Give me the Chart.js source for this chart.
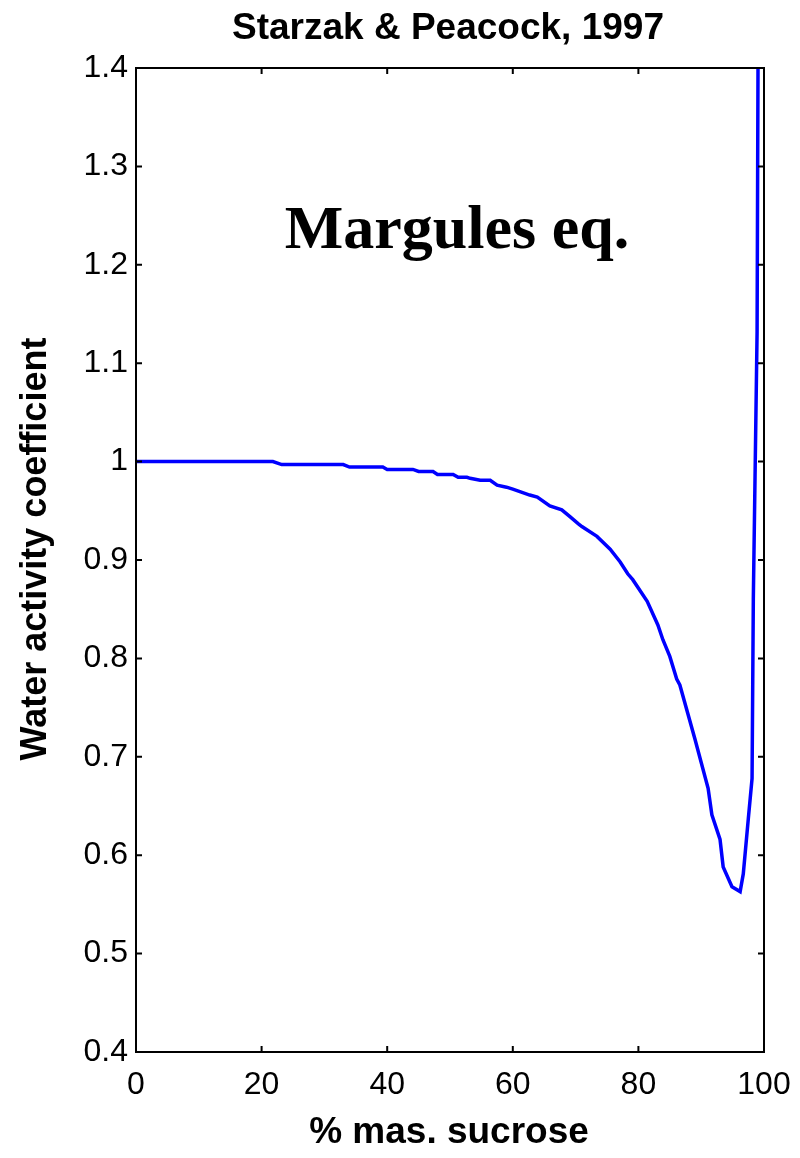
<!DOCTYPE html>
<html>
<head>
<meta charset="utf-8">
<script src="https://cdn.jsdelivr.net/npm/chart.js@4/dist/chart.umd.min.js"></script>
<style>
html,body{margin:0;padding:0;background:#fff;}
#wrap{width:800px;height:1158px;position:relative;}
</style>
</head>
<body>
<div id="wrap"><canvas id="c" width="800" height="1158"></canvas></div>
<script>
const chartTitle = "Starzak & Peacock, 1997";
const annotationText = "Margules eq.";
const xAxisTitle = "% mas. sucrose";
const yAxisTitle = "Water activity coefficient";
const xTickValues = [0, 20, 40, 60, 80, 100];
const yTickValues = [0.4, 0.5, 0.6, 0.7, 0.8, 0.9, 1, 1.1, 1.2, 1.3, 1.4];
const sucrosePct = [0, 10, 21.8, 23.2, 33, 34, 39.3, 40, 44.1, 45, 47.3, 48, 50.5, 51.3, 52.7, 53.2, 54.8, 56.4, 57.5, 59, 60, 62.7, 63.9, 65.9, 67.8, 69.1, 70.4, 71.0, 73.4, 75.5, 77.1, 78.3, 79.1, 81.4, 83.1, 83.9, 85.0, 86.1, 86.6, 89.0, 91.1, 91.7, 93.0, 93.5, 94.9, 96.2, 96.7, 97.5, 98.1, 98.3, 98.9, 99.1];
const activityCoef = [1, 1, 1, 0.997, 0.997, 0.9945, 0.9945, 0.992, 0.992, 0.990, 0.990, 0.987, 0.987, 0.984, 0.984, 0.983, 0.981, 0.981, 0.976, 0.974, 0.972, 0.966, 0.964, 0.955, 0.951, 0.944, 0.937, 0.934, 0.924, 0.911, 0.898, 0.886, 0.880, 0.858, 0.834, 0.819, 0.802, 0.779, 0.773, 0.718, 0.668, 0.641, 0.616, 0.588, 0.568, 0.563, 0.581, 0.637, 0.678, 0.86, 1.132, 1.5];

const points = sucrosePct.map((x, i) => ({x: x, y: activityCoef[i]}));
const SANS = '"Liberation Sans", Arial, Helvetica, sans-serif';
const SERIF = '"Liberation Serif", "Times New Roman", serif';

const boxPlugin = {
  id: 'boxPlugin',
  afterDraw(chart) {
    const ctx = chart.ctx, a = chart.chartArea;
    const xs = chart.scales.x, ys = chart.scales.y;
    ctx.save();
    ctx.strokeStyle = '#000';
    ctx.lineWidth = 2;
    ctx.strokeRect(a.left, a.top, a.right - a.left, a.bottom - a.top);
    const tl = 6;
    ctx.beginPath();
    xTickValues.forEach(v => {
      const px = xs.getPixelForValue(v);
      ctx.moveTo(px, a.bottom); ctx.lineTo(px, a.bottom - tl);
      ctx.moveTo(px, a.top); ctx.lineTo(px, a.top + tl);
    });
    yTickValues.forEach(v => {
      const py = ys.getPixelForValue(v);
      ctx.moveTo(a.left, py); ctx.lineTo(a.left + tl, py);
      ctx.moveTo(a.right, py); ctx.lineTo(a.right - tl, py);
    });
    ctx.stroke();
    ctx.fillStyle = '#000';
    ctx.textAlign = 'center';
    ctx.textBaseline = 'alphabetic';
    ctx.font = 'bold 37px ' + SANS;
    ctx.fillText(chartTitle, 448, 39);
    ctx.font = 'bold 37px ' + SANS;
    ctx.fillText(xAxisTitle, 449, 1143);
    ctx.save();
    ctx.translate(46, 549);
    ctx.rotate(-Math.PI / 2);
    ctx.font = 'bold 36px ' + SANS;
    ctx.fillText(yAxisTitle, 0, 0);
    ctx.restore();
    ctx.font = 'bold 62px ' + SERIF;
    ctx.fillText(annotationText, 457, 248);
    ctx.restore();
  }
};

new Chart(document.getElementById('c'), {
  type: 'line',
  data: {
    datasets: [{
      data: points,
      borderColor: '#0000ff',
      borderWidth: 3.5,
      pointRadius: 0,
      tension: 0,
      fill: false
    }]
  },
  options: {
    responsive: false,
    animation: false,
    layout: {padding: {top: 68, right: 36, left: 0, bottom: 0}},
    plugins: {legend: {display: false}, tooltip: {enabled: false}, title: {display: false}},
    scales: {
      x: {
        type: 'linear', min: 0, max: 100,
        afterBuildTicks: s => { s.ticks = xTickValues.map(v => ({value: v})); },
        afterFit: s => { s.height = 106; s.paddingLeft = 0; s.paddingRight = 0; },
        grid: {display: false, drawTicks: false},
        border: {display: false},
        ticks: {color: '#000', font: {family: SANS, size: 32}, padding: 14, maxRotation: 0,
          callback: v => String(v)},
        title: {display: false}
      },
      y: {
        type: 'linear', min: 0.4, max: 1.4,
        afterBuildTicks: s => { s.ticks = yTickValues.map(v => ({value: v})); },
        afterFit: s => { s.width = 136; s.paddingTop = 0; s.paddingBottom = 0; },
        grid: {display: false, drawTicks: false},
        border: {display: false},
        ticks: {color: '#000', font: {family: SANS, size: 32}, padding: 8,
          callback: v => String(Math.round(v * 10) / 10)},
        title: {display: false}
      }
    }
  },
  plugins: [boxPlugin]
});
</script>
</body>
</html>
